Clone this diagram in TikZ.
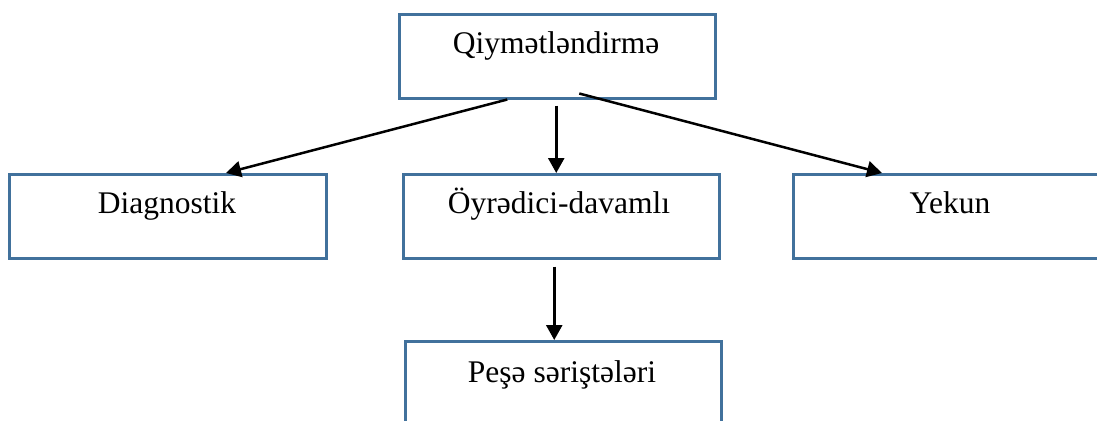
\documentclass[tikz,border=0pt]{standalone}
\usepackage{fontspec}
\setmainfont{Liberation Serif}
\usetikzlibrary{arrows.meta}
\definecolor{boxblue}{RGB}{65,113,156}
\begin{document}
\begin{tikzpicture}[x=1bp,y=-1bp,
  box/.style={draw=boxblue, line width=2.5bp, fill=white, rectangle, inner sep=0pt, anchor=north west},
  lbl/.style={font=\fontsize{31.5bp}{36bp}\selectfont, anchor=base, inner sep=0pt},
  arr/.style={line width=2.5bp, -{Triangle[length=15bp,width=16bp]}}]
\useasboundingbox (0,0) rectangle (1097,420);
\clip (0,0) rectangle (1097,420);
\fill[white] (0,0) rectangle (1097,420);
\node[box, minimum width=316bp, minimum height=84bp] (q) at (398,13) {};
\node[box, minimum width=317bp, minimum height=84bp] (d) at (8,173) {};
\node[box, minimum width=316bp, minimum height=84bp] (o) at (402,173) {};
\node[box, minimum width=310bp, minimum height=84bp] (y) at (792,173) {};
\node[box, minimum width=316bp, minimum height=90bp] (p) at (404,340) {};
\node[lbl] (tq) at (556,53) {Qiymətləndirmə};
\node[lbl] (td) at (167,213) {Diagnostik};
\node[lbl] (to) at (559,213) {Öyrədici-davamlı};
\node[lbl] (ty) at (950,213) {Yekun};
\node[lbl] (tp) at (562,382) {Peşə səriştələri};
\coordinate (s1) at ([xshift=-1bp,yshift=-6bp]q.south);
\coordinate (s2) at ([xshift=-7bp,yshift=-7bp]o.south);
\draw[arr] ([xshift=-50bp]q.south) -- ([xshift=218bp]d.north west);
\draw[arr] (s1) -- (s1 |- o.north);
\draw[arr] ([xshift=22bp,yshift=6bp]q.south) -- ([xshift=90bp]y.north west);
\draw[arr] (s2) -- (s2 |- p.north);
\end{tikzpicture}
\end{document}
